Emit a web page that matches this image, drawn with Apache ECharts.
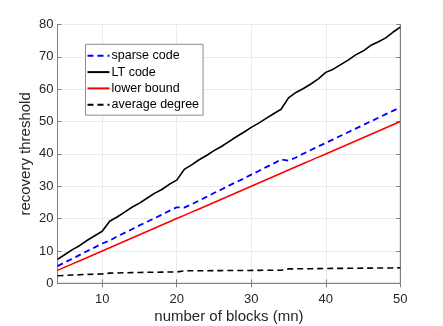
<!DOCTYPE html>
<html>
<head>
<meta charset="utf-8">
<script src="https://cdn.jsdelivr.net/npm/echarts@6/dist/echarts.min.js"></script>
<style>
  html, body { margin: 0; padding: 0; background: #fff; }
  #main { width: 443px; height: 326px; }
</style>
</head>
<body>
<div id="main"></div>
<script>
// x = number of blocks (mn)
var blocks = [];
for (var b = 4; b <= 50; b++) blocks.push(b);

var sparseCode = [5.3, 6.5, 7.6, 8.8, 10.0, 11.1, 12.3, 13.2, 14.5, 15.6, 16.7, 17.9, 19.0, 20.1, 21.2, 22.4,
  23.5, 23.4, 24.4, 25.6, 26.7, 27.9, 29.0, 30.2, 31.3, 32.4, 33.6, 34.7, 35.9, 37.0, 38.3,
  37.9, 38.9, 40.1, 41.2, 42.3, 43.4, 44.5, 45.6, 46.7, 47.8, 48.9, 50.0, 51.1, 52.2, 53.3, 54.4];

var ltCode = [7.4, 8.9, 10.4, 11.7, 13.3, 14.7, 16.1, 19.2, 20.5, 22.0, 23.5, 24.8, 26.3, 27.8, 29.0, 30.6,
  31.9, 35.2, 36.6, 38.2, 39.5, 41.0, 42.3, 43.8, 45.3, 46.7, 48.2, 49.5, 51.0, 52.4, 53.8,
  57.3, 59.0, 60.2, 61.6, 63.2, 65.2, 66.2, 67.6, 69.0, 70.6, 71.8, 73.5, 74.6, 75.8, 77.6, 79.2];

var lowerBound = [4, 5, 6, 7, 8, 9, 10, 11, 12, 13, 14, 15, 16, 17, 18, 19, 20, 21, 22, 23, 24, 25, 26, 27,
  28, 29, 30, 31, 32, 33, 34, 35, 36, 37, 38, 39, 40, 41, 42, 43, 44, 45, 46, 47, 48, 49, 50];

var avgDegree = [2.35, 2.45, 2.55, 2.65, 2.75, 2.8, 2.9, 3.15, 3.2, 3.25, 3.3, 3.35, 3.4, 3.42, 3.45, 3.48,
  3.5, 3.85, 3.87, 3.88, 3.9, 3.92, 3.93, 3.95, 3.96, 3.97, 3.98, 4.0, 4.02, 4.03, 4.05,
  4.45, 4.48, 4.5, 4.52, 4.55, 4.57, 4.6, 4.62, 4.64, 4.66, 4.68, 4.7, 4.72, 4.74, 4.76, 4.8];

var xTicks = [10, 20, 30, 40, 50];

function pairs(ys) {
  return blocks.map(function (x, i) { return [x, ys[i]]; });
}

var axisGray = '#808080';
var txt = '#262626';
var font = 'Liberation Sans';

var chart = echarts.init(document.getElementById('main'), null, {renderer: 'canvas'});
var option = {
  backgroundColor: '#fff',
  animation: false,
  textStyle: {fontFamily: font},
  grid: {left: 57.5, right: 42.7, top: 24.5, bottom: 42.7, outerBoundsMode: 'none',
    show: true, borderColor: axisGray, borderWidth: 1, backgroundColor: '#fff'},
  legend: {
    left: 85.5, top: 44.3, orient: 'vertical',
    backgroundColor: '#fff', borderColor: '#8c8c8c', borderWidth: 1,
    padding: [5, 4, 4, 1],
    itemWidth: 22, itemHeight: 14, itemGap: 3.3,
    itemStyle: {opacity: 0},
    textStyle: {fontFamily: font, fontSize: 12.5, color: '#000', padding: [0, 0, 0, -3]},
    data: ['sparse code', 'LT code', 'lower bound', 'average degree']
  },
  xAxis: [{
    type: 'value', min: 4, max: 50,
    name: 'number of blocks (mn)', nameLocation: 'middle', nameGap: 26, nameMoveOverlap: false,
    nameTextStyle: {fontSize: 15, color: txt, fontFamily: font},
    axisLine: {show: true, lineStyle: {color: axisGray}},
    axisTick: {show: true, inside: true, length: 4, lineStyle: {color: axisGray}, customValues: xTicks},
    axisLabel: {fontSize: 13, color: txt, margin: 9.5, customValues: xTicks},
    splitLine: {show: true, lineStyle: {color: '#ebebeb'}}
  }, {
    type: 'value', min: 4, max: 50, position: 'top',
    axisLine: {show: true, lineStyle: {color: axisGray}},
    axisTick: {show: true, inside: true, length: 4, lineStyle: {color: axisGray}, customValues: xTicks},
    axisLabel: {show: false, customValues: xTicks},
    splitLine: {show: false}
  }],
  yAxis: [{
    type: 'value', min: 0, max: 80, interval: 10,
    name: 'recovery threshold', nameLocation: 'middle', nameGap: 24, nameMoveOverlap: false,
    nameTextStyle: {fontSize: 15, color: txt, fontFamily: font},
    axisLine: {show: true, lineStyle: {color: axisGray}},
    axisTick: {show: true, inside: true, length: 4, lineStyle: {color: axisGray}},
    axisLabel: {fontSize: 13, color: txt, margin: 4},
    splitLine: {show: true, lineStyle: {color: '#ebebeb'}}
  }, {
    type: 'value', min: 0, max: 80, interval: 10, position: 'right',
    axisLine: {show: true, lineStyle: {color: axisGray}},
    axisTick: {show: true, inside: true, length: 4, lineStyle: {color: axisGray}},
    axisLabel: {show: false},
    splitLine: {show: false}
  }],
  series: [
    {name: 'sparse code', type: 'line', data: pairs(sparseCode), symbol: 'none',
      lineStyle: {color: '#0000ff', width: 1.8, type: [6, 4]}, itemStyle: {color: '#0000ff'}},
    {name: 'LT code', type: 'line', data: pairs(ltCode), symbol: 'none',
      lineStyle: {color: '#000', width: 1.6}, itemStyle: {color: '#000'}},
    {name: 'lower bound', type: 'line', data: pairs(lowerBound), symbol: 'none',
      lineStyle: {color: '#ff0000', width: 1.6}, itemStyle: {color: '#ff0000'}},
    {name: 'average degree', type: 'line', data: pairs(avgDegree), symbol: 'none',
      lineStyle: {color: '#000', width: 1.6, type: [6, 4]}, itemStyle: {color: '#000'}}
  ]
};
chart.setOption(option);
</script>
</body>
</html>
